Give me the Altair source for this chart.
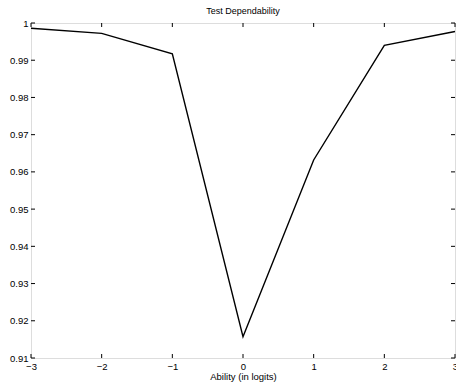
import altair as alt
import pandas as pd

ability = [-3, -2, -1, 0, 1, 2, 3]
dependability = [0.9986, 0.9972, 0.9917, 0.9157, 0.9632, 0.9940, 0.9977]
x_ticks = [-3, -2, -1, 0, 1, 2, 3]
y_ticks = [0.91, 0.92, 0.93, 0.94, 0.95, 0.96, 0.97, 0.98, 0.99, 1.0]

W, H = 424, 335
FONT = "Liberation Sans"
TL = 4

df = pd.DataFrame({"x": ability, "y": dependability})
xt = pd.DataFrame({"x": x_ticks})
yt = pd.DataFrame({"y": y_ticks})

xs = alt.Scale(domain=[-3, 3], nice=False, zero=False)
ys = alt.Scale(domain=[0.91, 1.0], nice=False, zero=False)

x_axis = alt.Axis(values=x_ticks, format="d", title="Ability (in logits)",
                  grid=False, domain=False, ticks=False, labelPadding=3,
                  labelOverlap=False, labelFlush=False, labelBound=False,
                  labelFont=FONT, labelFontSize=9.5, labelColor="black",
                  titleFont=FONT, titleFontSize=9.5, titleFontWeight="normal",
                  titleColor="black", titlePadding=1)
y_axis = alt.Axis(values=y_ticks, format=".2~f", title=None,
                  grid=False, domain=False, ticks=False, labelPadding=3,
                  labelOverlap=False, labelFlush=False, labelBound=False,
                  labelFont=FONT, labelFontSize=9.5, labelColor="black")

line = alt.Chart(df).mark_line(color="black", strokeWidth=1.4).encode(
    x=alt.X("x:Q", scale=xs, axis=x_axis),
    y=alt.Y("y:Q", scale=ys, axis=y_axis),
)

xb = alt.Chart(xt).mark_rule(color="black", strokeWidth=1).encode(
    x=alt.X("x:Q", scale=xs, axis=x_axis), y=alt.value(H), y2=alt.value(H - TL))
xtop = alt.Chart(xt).mark_rule(color="black", strokeWidth=1).encode(
    x=alt.X("x:Q", scale=xs, axis=x_axis), y=alt.value(0), y2=alt.value(TL))
yl = alt.Chart(yt).mark_rule(color="black", strokeWidth=1).encode(
    y=alt.Y("y:Q", scale=ys, axis=y_axis), x=alt.value(0), x2=alt.value(TL))
yr = alt.Chart(yt).mark_rule(color="black", strokeWidth=1).encode(
    y=alt.Y("y:Q", scale=ys, axis=y_axis), x=alt.value(W), x2=alt.value(W - TL))

chart = alt.layer(line, xb, xtop, yl, yr).properties(
    width=W, height=H,
    title=alt.TitleParams("Test Dependability", font=FONT, fontSize=9,
                          fontWeight="normal", color="black", offset=2),
    autosize=alt.AutoSizeParams(type="none"),
    padding={"left": 31, "top": 23, "right": 1, "bottom": 29},
).configure_view(stroke="black", strokeWidth=1.2).configure(background="white")

chart.save("out.html", embed_options={"renderer": "svg", "actions": False})
